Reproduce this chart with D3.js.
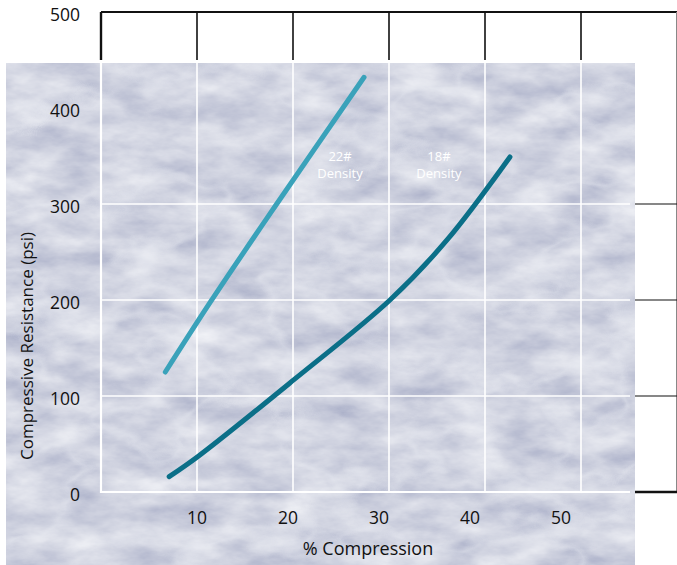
<!DOCTYPE html>
<html>
<head>
<meta charset="utf-8">
<script src="https://cdn.jsdelivr.net/npm/d3@7"></script>
<style>
  body { margin: 0; background: #fff; }
  svg { display: block; font-family: "Open Sans", "Noto Sans", sans-serif; }
</style>
</head>
<body>
<svg id="chart"></svg>
<script>
// values
const xTicks = [10, 20, 30, 40, 50];
const yTicks = [0, 100, 200, 300, 400, 500];
const gridY = [100, 200, 300];          // horizontal grid lines shown
const density22 = [[6.7, 125], [11.4, 198], [18.3, 300], [27.4, 432]];
const density18 = [[7.1, 16], [10.1, 37], [20.1, 117], [30.1, 200], [36.0, 262], [42.6, 349]];
const seriesLabels = [
  {name: '22#', sub: 'Density', x: 24.9},
  {name: '18#', sub: 'Density', x: 35.2}
];

const W = 677, H = 565;
const texture = {x0: 6, y0: 63, x1: 635, y1: 565};

const svg = d3.select('#chart').attr('width', W).attr('height', H);

const x = d3.scaleLinear().domain([0, 60]).range([101, 677]);
const y = d3.scaleLinear().domain([0, 500]).range([492, 12]);
// tick labels in the original sit a little off the grid lines
const xLabel = d3.scaleLinear().domain([10, 50]).range([197, 561]);

// ---- filters for the marble background
const defs = svg.append('defs');
const clouds = defs.append('filter').attr('id', 'clouds')
    .attr('x', 0).attr('y', 0).attr('width', 1).attr('height', 1);
clouds.append('feTurbulence')
    .attr('type', 'fractalNoise').attr('baseFrequency', '0.018 0.04')
    .attr('numOctaves', 5).attr('seed', 7).attr('result', 'n');
clouds.append('feColorMatrix').attr('in', 'n').attr('type', 'matrix')
    .attr('values', '0.55 0 0 0 0.36  0.53 0 0 0 0.39  0.4 0 0 0 0.55  0 0 0 0 1');

const veins = defs.append('filter').attr('id', 'veins')
    .attr('x', 0).attr('y', 0).attr('width', 1).attr('height', 1);
veins.append('feTurbulence')
    .attr('type', 'fractalNoise').attr('baseFrequency', '0.007 0.011')
    .attr('numOctaves', 4).attr('seed', 11).attr('result', 'v');
veins.append('feColorMatrix').attr('in', 'v').attr('type', 'matrix')
    .attr('values', '0 0 0 0 0.80  0 0 0 0 0.82  0 0 0 0 0.88  1 0 0 0 0')
    .attr('result', 'va');
const ct = veins.append('feComponentTransfer').attr('in', 'va');
ct.append('feFuncA').attr('type', 'table')
    .attr('tableValues', '0 0 0 0 0 0 0 0 0 0.35 0 0 0 0 0 0 0 0 0 0');

defs.append('clipPath').attr('id', 'texClip').append('rect')
    .attr('x', texture.x0).attr('y', texture.y0)
    .attr('width', texture.x1 - texture.x0).attr('height', texture.y1 - texture.y0);

// ---- black frame outside the texture
const frame = svg.append('g').attr('stroke', '#111').attr('fill', 'none');
frame.append('line')
    .attr('x1', x(0)).attr('x2', x(60)).attr('y1', y(500)).attr('y2', y(500))
    .attr('stroke-width', 2.2);
frame.append('line')
    .attr('x1', x(0)).attr('x2', x(0)).attr('y1', y(500)).attr('y2', 60)
    .attr('stroke-width', 2.4);
frame.selectAll('.vtop').data(xTicks).join('line')
    .attr('x1', d => x(d)).attr('x2', d => x(d))
    .attr('y1', y(500)).attr('y2', 60)
    .attr('stroke-width', 1.6);
frame.append('line')
    .attr('x1', x(60) - 0.5).attr('x2', x(60) - 0.5).attr('y1', y(500)).attr('y2', y(0))
    .attr('stroke', '#888').attr('stroke-width', 1);
frame.selectAll('.hright').data(gridY).join('line')
    .attr('x1', 630).attr('x2', x(60)).attr('y1', d => y(d)).attr('y2', d => y(d))
    .attr('stroke-width', 1.2);
frame.append('line')
    .attr('x1', 630).attr('x2', x(60)).attr('y1', y(0)).attr('y2', y(0))
    .attr('stroke-width', 2.4);

// ---- texture
const tex = svg.append('g').attr('clip-path', 'url(#texClip)');
tex.append('rect')
    .attr('x', texture.x0).attr('y', texture.y0)
    .attr('width', texture.x1 - texture.x0).attr('height', texture.y1 - texture.y0)
    .attr('fill', '#aab1c8').attr('filter', 'url(#clouds)');
tex.append('rect')
    .attr('x', texture.x0).attr('y', texture.y0)
    .attr('width', texture.x1 - texture.x0).attr('height', texture.y1 - texture.y0)
    .attr('fill', '#fff').attr('filter', 'url(#veins)');

// ---- white grid inside the texture
const grid = tex.append('g').attr('stroke', '#fff').attr('fill', 'none');
grid.selectAll('.v').data(xTicks).join('line')
    .attr('x1', d => x(d)).attr('x2', d => x(d))
    .attr('y1', texture.y0).attr('y2', y(0))
    .attr('stroke-width', 1.6);
grid.selectAll('.h').data(gridY).join('line')
    .attr('x1', x(0)).attr('x2', 630)
    .attr('y1', d => y(d)).attr('y2', d => y(d))
    .attr('stroke-width', 1.6);
grid.append('line')
    .attr('x1', x(0)).attr('x2', x(0)).attr('y1', texture.y0).attr('y2', y(0) + 1)
    .attr('stroke-width', 2.2);
grid.append('line')
    .attr('x1', x(0)).attr('x2', 630).attr('y1', y(0)).attr('y2', y(0))
    .attr('stroke-width', 2.2);

// ---- curves
const line = d3.line()
    .x(d => x(d[0]))
    .y(d => y(d[1]))
    .curve(d3.curveCatmullRom.alpha(0.5));

svg.append('path').datum(density22)
    .attr('d', line)
    .attr('fill', 'none').attr('stroke', '#3aa2ba')
    .attr('stroke-width', 5).attr('stroke-linecap', 'round');

svg.append('path').datum(density18)
    .attr('d', line)
    .attr('fill', 'none').attr('stroke', '#0b6f88')
    .attr('stroke-width', 5).attr('stroke-linecap', 'round');

// ---- series labels
const sl = svg.append('g').attr('fill', '#ffffff').attr('font-size', 13)
    .attr('text-anchor', 'middle');
sl.selectAll('.n').data(seriesLabels).join('text')
    .attr('x', d => x(d.x)).attr('y', 161).text(d => d.name);
sl.selectAll('.s').data(seriesLabels).join('text')
    .attr('x', d => x(d.x)).attr('y', 178).text(d => d.sub);

// ---- tick labels
const tl = svg.append('g').attr('fill', '#111').attr('font-size', 17.5);
tl.selectAll('.yl').data(yTicks).join('text')
    .attr('x', 80).attr('y', d => y(d) + 2.5)
    .attr('dy', '0.35em').attr('text-anchor', 'end')
    .text(d => d);
tl.selectAll('.xl').data(xTicks).join('text')
    .attr('x', d => xLabel(d)).attr('y', 518)
    .attr('dy', '0.35em').attr('text-anchor', 'middle')
    .text(d => d);

// ---- axis titles
svg.append('text')
    .attr('x', 368).attr('y', 555)
    .attr('text-anchor', 'middle').attr('font-size', 18).attr('fill', '#111')
    .text('% Compression');
svg.append('text')
    .attr('transform', 'translate(33,346) rotate(-90)')
    .attr('text-anchor', 'middle').attr('font-size', 17).attr('fill', '#111')
    .text('Compressive Resistance (psi)');
</script>
</body>
</html>
